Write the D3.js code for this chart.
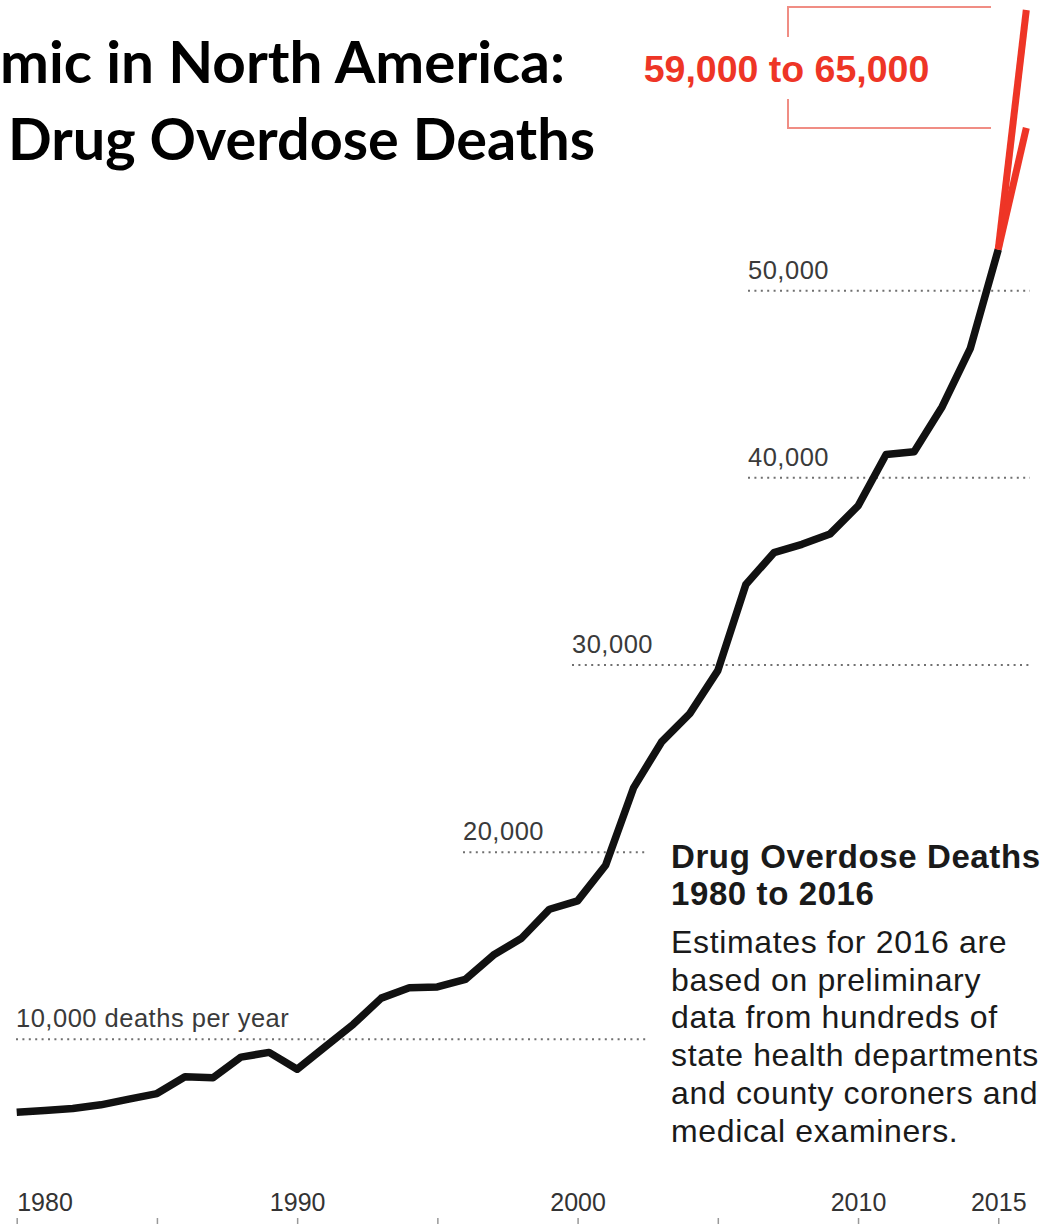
<!DOCTYPE html>
<html>
<head>
<meta charset="utf-8">
<script src="https://cdn.jsdelivr.net/npm/d3@7"></script>
<style>
  body { margin: 0; background: #fff; }
  svg { display: block; }
</style>
</head>
<body>
<div id="chart"></div>
<script>
// values
var years = [1980, 1981, 1982, 1983, 1984, 1985, 1986, 1987, 1988, 1989,
             1990, 1991, 1992, 1993, 1994, 1995, 1996, 1997, 1998, 1999,
             2000, 2001, 2002, 2003, 2004, 2005, 2006, 2007, 2008, 2009,
             2010, 2011, 2012, 2013, 2014, 2015];
var deaths = [6100, 6200, 6300, 6500, 6800, 7100, 8000, 7950, 9050, 9300,
              8400, 9600, 10800, 12200, 12750, 12800, 13200, 14500, 15400, 16950,
              17400, 19300, 23450, 25900, 27400, 29700, 34300, 36000, 36450, 37000,
              38500, 41250, 41400, 43800, 46900, 52200];

var estYears = [2015, 2016];
var estHigh = [52200, 65000];
var estLow = [52200, 58700];

var gridValues = [10000, 20000, 30000, 40000, 50000];
var gridLabels = ["10,000 deaths per year", "20,000", "30,000", "40,000", "50,000"];

var tickYears = [1980, 1985, 1990, 1995, 2000, 2005, 2010, 2015];
var labelYears = [1980, 1990, 2000, 2010, 2015];

var titleLines = ["mic in North America:", "Drug Overdose Deaths"];
var noteHead = ["Drug Overdose Deaths", "1980 to 2016"];
var noteBody = ["Estimates for 2016 are", "based on preliminary", "data from hundreds of",
                "state health departments", "and county coroners and", "medical examiners."];
var rangeLabel = "59,000 to 65,000";

var width = 1050;
var height = 1224;

var svg = d3.select("#chart").append("svg").attr("width", width).attr("height", height);

var xScale = d3.scaleLinear().domain([1980, 2016]).range([16.7, 1026.3]);
var yScale = d3.scaleLinear().domain([0, 50000]).range([1226.45, 290.7]);

// dotted reference lines, each starts where its label starts
var gridLayout = [
  {x0: 16, x1: 648},
  {x0: 463, x1: 647},
  {x0: 572, x1: 1030},
  {x0: 748, x1: 1030},
  {x0: 748, x1: 1030}
];

var grid = svg.append("g");
gridValues.forEach(function(v, i) {
  grid.append("line")
    .attr("x1", gridLayout[i].x0)
    .attr("x2", gridLayout[i].x1)
    .attr("y1", yScale(v))
    .attr("y2", yScale(v))
    .attr("stroke", "#707070")
    .attr("stroke-width", 2)
    .attr("stroke-dasharray", "2,4.4");
  grid.append("text")
    .attr("x", gridLayout[i].x0)
    .attr("y", yScale(v) - 12)
    .attr("font-family", "Liberation Sans, Arial, sans-serif")
    .attr("font-size", "25.5px")
    .attr("letter-spacing", "0.5px")
    .attr("fill", "#3a3a3a")
    .text(gridLabels[i]);
});

// bottom axis, labels sit above the short ticks
var axis = d3.axisTop(xScale)
  .tickValues(tickYears)
  .tickSizeInner(6)
  .tickSizeOuter(0)
  .tickPadding(7)
  .tickFormat(function(d) { return labelYears.indexOf(d) >= 0 ? String(d) : ""; });

var axisG = svg.append("g")
  .attr("transform", "translate(0," + 1224 + ")")
  .call(axis);
axisG.select(".domain").remove();
axisG.selectAll(".tick line").attr("stroke", "#999").attr("stroke-width", 1.5);
axisG.selectAll(".tick text")
  .attr("font-family", "Liberation Sans, Arial, sans-serif")
  .attr("font-size", "25px")
  .attr("fill", "#333")
  .attr("text-anchor", function(d) { return d === 1980 ? "start" : "middle"; });

// main line
var line = d3.line()
  .x(function(d) { return xScale(d[0]); })
  .y(function(d) { return yScale(d[1]); });

svg.append("path")
  .datum(years.map(function(y, i) { return [y, deaths[i]]; }))
  .attr("d", line)
  .attr("fill", "none")
  .attr("stroke", "#111")
  .attr("stroke-width", 7.5)
  .attr("stroke-linejoin", "round");

// 2016 estimates in red
[estHigh, estLow].forEach(function(series) {
  svg.append("path")
    .datum(estYears.map(function(y, i) { return [y, series[i]]; }))
    .attr("d", line)
    .attr("fill", "none")
    .attr("stroke", "#ee3526")
    .attr("stroke-width", 7);
});

// bracket around the estimate label
var brTop = yScale(estHigh[1]) - 3;
var brBot = yScale(estLow[1]);
var brLeft = 788, brRight = 991;
svg.append("path")
  .attr("d", "M" + brRight + "," + brTop + "H" + brLeft + "V37" +
             "M" + brLeft + ",99V" + brBot + "H" + brRight)
  .attr("fill", "none")
  .attr("stroke", "#f08d84")
  .attr("stroke-width", 2);

svg.append("text")
  .attr("x", 786.5)
  .attr("y", 82)
  .attr("text-anchor", "middle")
  .attr("font-family", "Liberation Sans, Arial, sans-serif")
  .attr("font-weight", "bold")
  .attr("font-size", "37.5px")
  .attr("fill", "#ee3526")
  .text(rangeLabel);

// title (cut off at the left edge in the source)
svg.append("text")
  .attr("x", 0)
  .attr("y", 83)
  .attr("font-family", "Lato, Open Sans, sans-serif")
  .attr("font-weight", "bold")
  .attr("font-size", "57px")
  .attr("textLength", 565)
  .attr("lengthAdjust", "spacingAndGlyphs")
  .attr("fill", "#000")
  .text(titleLines[0]);

svg.append("text")
  .attr("x", 8)
  .attr("y", 160)
  .attr("font-family", "Lato, Open Sans, sans-serif")
  .attr("font-weight", "bold")
  .attr("font-size", "57px")
  .attr("textLength", 587)
  .attr("lengthAdjust", "spacingAndGlyphs")
  .attr("fill", "#000")
  .text(titleLines[1]);

// note block
var note = svg.append("g").attr("transform", "translate(671,0)");
noteHead.forEach(function(t, i) {
  note.append("text")
    .attr("x", 0)
    .attr("y", 868 + i * 37)
    .attr("font-family", "Liberation Sans, Arial, sans-serif")
    .attr("font-weight", "bold")
    .attr("font-size", "33px")
    .attr("letter-spacing", "0.6px")
    .attr("fill", "#1a1a1a")
    .text(t);
});
noteBody.forEach(function(t, i) {
  note.append("text")
    .attr("x", 0)
    .attr("y", 953 + i * 37.7)
    .attr("font-family", "Liberation Sans, Arial, sans-serif")
    .attr("font-size", "32px")
    .attr("letter-spacing", "0.65px")
    .attr("fill", "#1a1a1a")
    .text(t);
});
</script>
</body>
</html>
